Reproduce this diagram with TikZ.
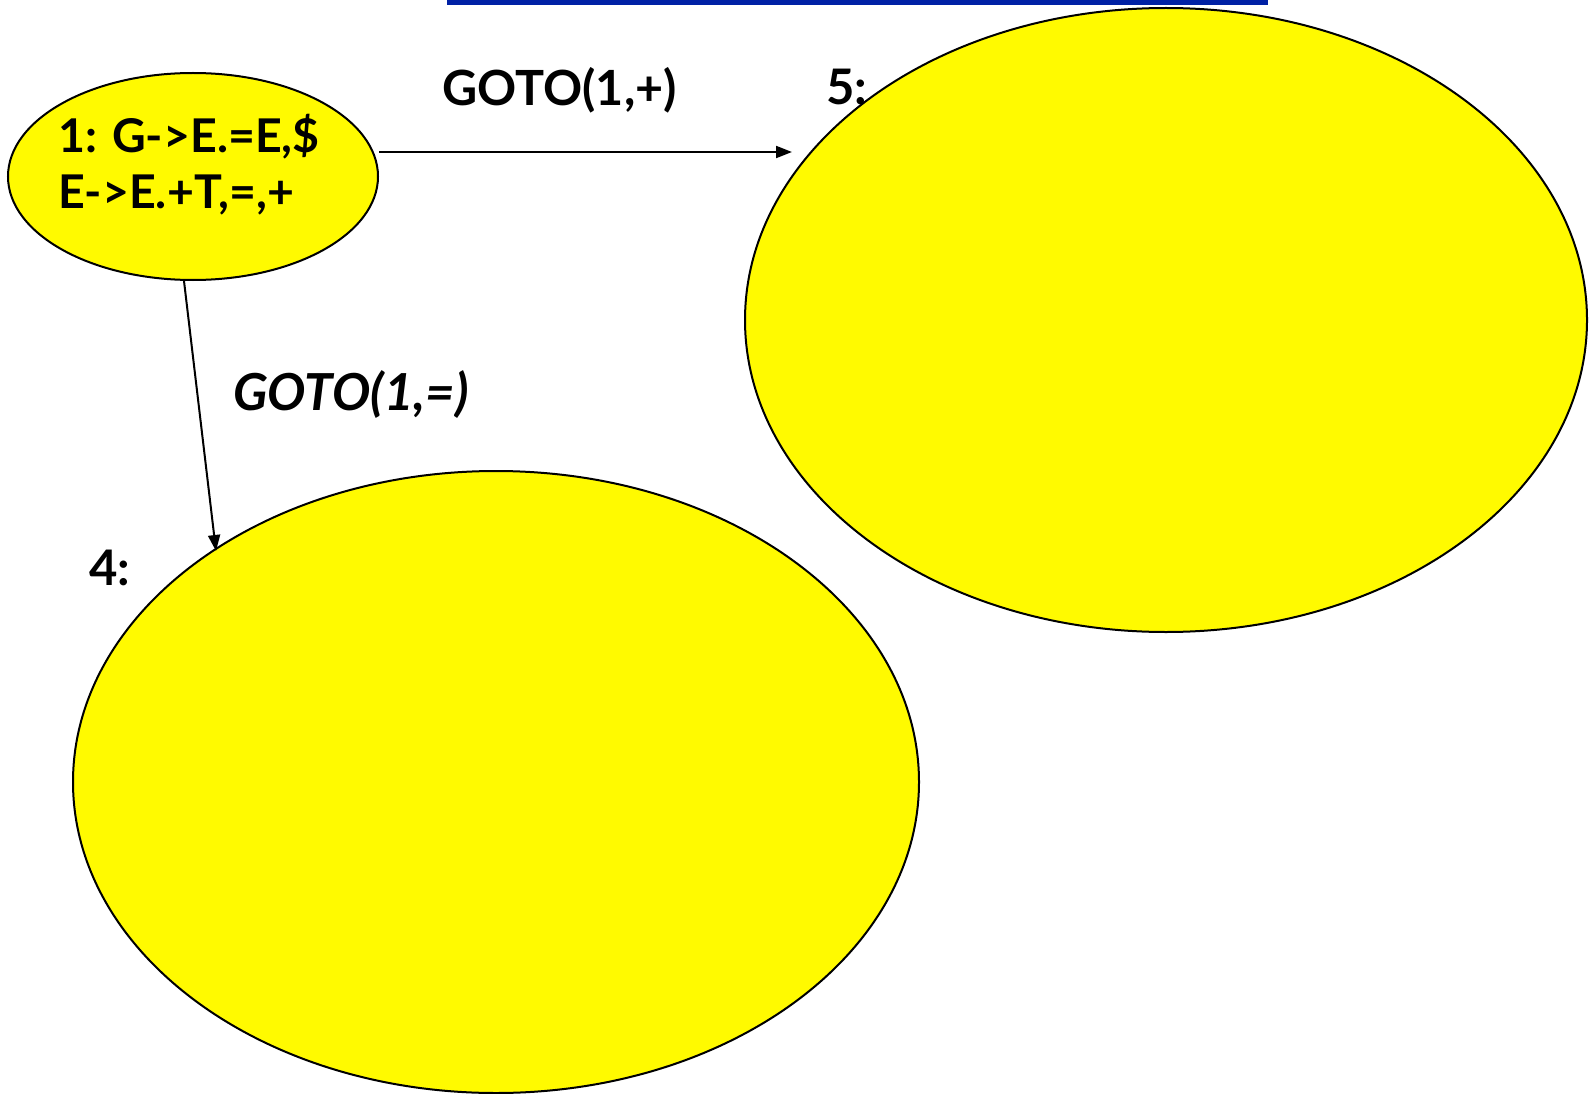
\documentclass[tikz,border=0pt]{standalone}
\usepackage{fontspec}
\setmainfont{Lato}
\usetikzlibrary{shapes.geometric,arrows.meta}
\definecolor{ellyellow}{RGB}{255,250,0}
\definecolor{barblue}{RGB}{0,33,165}
\tikzset{
  state/.style={ellipse,draw=black,line width=2pt,fill=ellyellow,inner sep=0pt},
  lbl/.style={anchor=base west,inner sep=0pt,font=\fontsize{49}{55}\selectfont\bfseries},
  conn/.style={line width=2pt,-{Triangle[length=16pt,width=12pt]}}
}
\begin{document}
\begin{tikzpicture}[x=1pt,y=-1pt]
\useasboundingbox (0,0) rectangle (1589,1094);
\fill[barblue] (447,0) rectangle (1268,5);
\node[state,minimum width=370pt,minimum height=207pt] (e1) at (193,176.5) {};
\node[state,minimum width=842pt,minimum height=624pt] (e5) at (1166,320) {};
\node[state,minimum width=846pt,minimum height=622pt] (e4) at (496,782) {};
\node[lbl,font=\fontsize{46.5}{55}\selectfont\bfseries] (t1a) at (58,153) {1: G->E.=E,\$};
\node[lbl,font=\fontsize{46.5}{55}\selectfont\bfseries] (t1b) at (58,208) {E->E.+T,=,+};
\node[lbl,font=\fontsize{48.5}{55}\selectfont\bfseries] (g1) at (442,106) {GOTO(1,+)};
\node[lbl] (l5) at (826,105) {5:};
\node[lbl,font=\fontsize{51}{55}\selectfont\bfseries\itshape] (g2) at (233,410) {GOTO(1,=)};
\node[lbl] (l4) at (89,585) {4:};
\coordinate (h5) at (792,152);
\draw[conn] (e1.east |- h5) coordinate (h1) -- (h5);
\coordinate (v1) at (184,281);
\draw[conn] (v1) -- (216,551) coordinate (v4);
\end{tikzpicture}
\end{document}
